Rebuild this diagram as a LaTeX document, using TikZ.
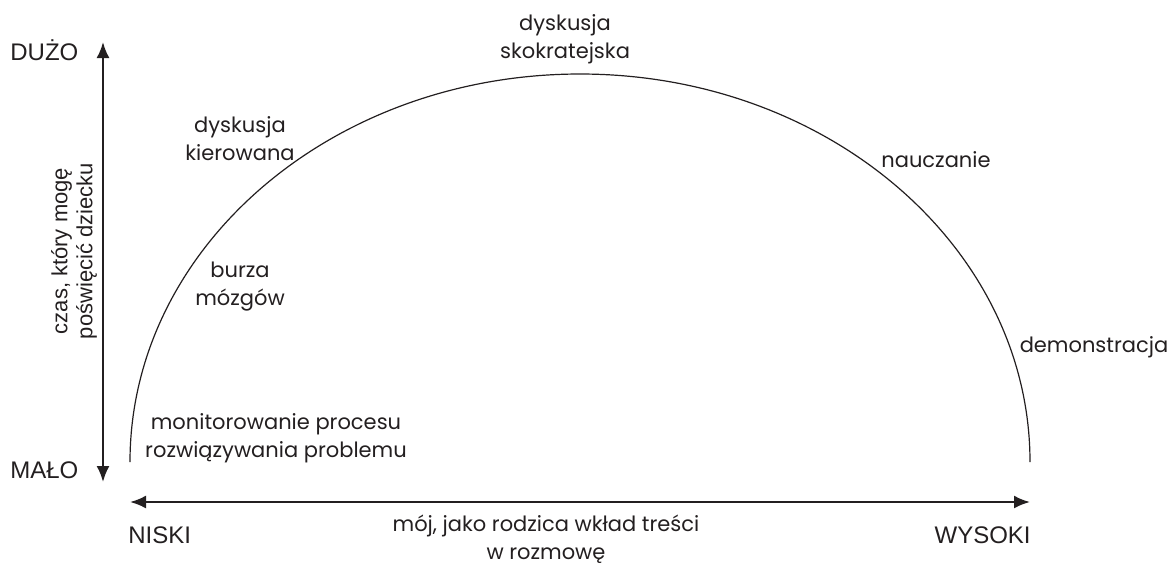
\documentclass[tikz,border=0pt]{standalone}
\usepackage{fontspec}
\setmainfont{Poppins}
\newfontfamily\axisfont{Liberation Sans}
\usetikzlibrary{arrows.meta,positioning}
\definecolor{KrzywaInk}{HTML}{231F20}

\begin{document}
\begin{tikzpicture}[x=0.5pt,y=-0.5pt,
  method/.style={align=center,font=\fontsize{10.5}{14}\selectfont,text=KrzywaInk,inner sep=0pt},
  axislabel/.style={align=center,font=\axisfont\fontsize{12}{12.5}\selectfont,text=KrzywaInk,inner sep=0pt},
  axis/.style={{Latex[length=8pt,width=6.5pt]}-{Latex[length=8pt,width=6.5pt]},line width=1.1pt,draw=KrzywaInk},
  curve/.style={line width=0.6pt,draw=KrzywaInk}]
  \useasboundingbox (0,0) rectangle (1168,564);
  % axes
  \coordinate (malo) at (103,482);
  \coordinate (duzo) at (103,42);
  \coordinate (niski) at (130,502);
  \coordinate (wysoki) at (1030,502);
  \draw[axis] (malo)--(duzo);
  \draw[axis] (niski)--(wysoki);
  \node[axislabel,anchor=west] (duzoLbl) at (10,50) {DUŻO};
  \node[axislabel,anchor=west] (maloLbl) at (10,470) {MAŁO};
  \node[axislabel,anchor=west] (niskiLbl) at (128,535) {NISKI};
  \node[axislabel,anchor=east] (wysokiLbl) at (1031,535) {WYSOKI};
  \node[axislabel,rotate=90,font=\axisfont\fontsize{11}{12.5}\selectfont] (czas) at (74,251) {czas, który mogę\\poświęcić dziecku};
  \node[method] (wklad) at (546,539) {mój, jako rodzica wkład treści\\w rozmowę};
  % the arc
  \coordinate (stopaL) at (130,462);
  \draw[curve] (stopaL) arc[start angle=180,end angle=0,x radius=225pt,y radius=194pt];
  % methods along the arc
  \node[method] (sokrates) at (565,39) {dyskusja\\skokratejska};
  \node[method] (kierowana) at (240,139) {dyskusja\\kierowana};
  \node[method] (burza) at (240,287) {burza\\mózgów};
  \node[method] (monitor) at (276,438) {monitorowanie procesu\\rozwiązywania problemu};
  \node[method] (nauczanie) at (936,160) {nauczanie};
  \node[method] (demo) at (1094,347) {demonstracja};
\end{tikzpicture}
\end{document}
